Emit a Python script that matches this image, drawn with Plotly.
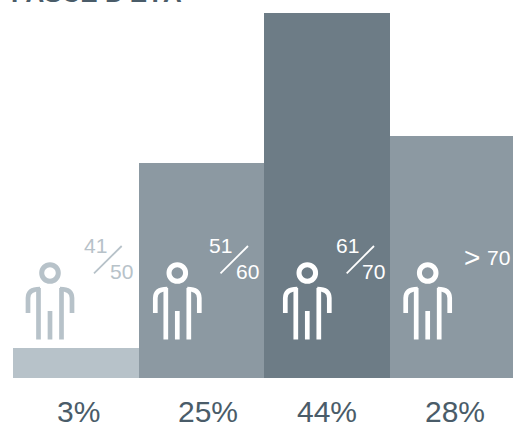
import plotly.graph_objects as go

age_groups = ["41/50", "51/60", "61/70", "> 70"]
percent_labels = ["3%", "25%", "44%", "28%"]
bar_heights = [30, 215, 365, 242]
bar_colors = ["#b7c2c9", "#8c99a2", "#6d7c86", "#8c99a2"]

W, H = 513, 423
LEFT, BASE, STEP = 13, 378, 125.6
TEXT = "#4a5c69"
FONT = "Liberation Sans"


def fx(p):
    return (p - LEFT) / STEP - 0.5


def fy(p):
    return BASE - p


fig = go.Figure(go.Bar(
    x=list(range(len(age_groups))), y=bar_heights, width=1,
    marker=dict(color=bar_colors, line=dict(width=0)),
    hovertext=age_groups, hoverinfo="text",
))

shapes, ann = [], []


def text(x, y, s, size, color, bold=False):
    ann.append(dict(x=fx(x), y=1 - y / H, yref="paper",
                    text=f"<b>{s}</b>" if bold else s, showarrow=False,
                    font=dict(family=FONT, size=size, color=color),
                    xanchor="center", yanchor="middle"))


def icon(cx, color):
    s = dict(type="circle", xref="x", yref="y", x0=fx(cx - 8.3), x1=fx(cx + 8.3),
             y0=fy(273 + 8.3), y1=fy(273 - 8.3), line=dict(color=color, width=5))
    shapes.append(s)
    for d in (-1, 1):
        p = (f"M{fx(cx + d*22)},{fy(313)} L{fx(cx + d*22)},{fy(298)} "
             f"Q{fx(cx + d*22)},{fy(289)} {fx(cx + d*10)},{fy(289)}")
        shapes.append(dict(type="path", path=p, xref="x", yref="y", line=dict(color=color, width=4.7)))
        shapes.append(dict(type="line", xref="x", yref="y", x0=fx(cx + d*11.5), x1=fx(cx + d*11.5),
                           y0=fy(288), y1=fy(339.5), line=dict(color=color, width=4.7)))
    shapes.append(dict(type="line", xref="x", yref="y", x0=fx(cx), x1=fx(cx), y0=fy(311), y1=fy(339.5),
                       line=dict(color=color, width=4.7)))


def slash(a, b, c, d, color):
    shapes.append(dict(type="line", xref="x", yref="y", x0=fx(a), x1=fx(c), y0=fy(b), y1=fy(d),
                       line=dict(color=color, width=1.8)))


LIGHT = "#b7c2c9"
icon(50, LIGHT)
icon(177.3, "white")
icon(307.3, "white")
icon(427.7, "white")

slash(94, 273.3, 121.7, 246, LIGHT)
slash(220.5, 273.3, 248, 246, "white")
slash(346.7, 273.3, 374, 246, "white")

text(95, 245.2, "41", 21, LIGHT)
text(121, 271.5, "50", 21, LIGHT)
text(220.5, 245.2, "51", 21, "white")
text(247, 271.5, "60", 21, "white")
text(347, 245.2, "61", 21, "white")
text(373, 271.5, "70", 21, "white")
text(471.5, 257, "&gt;", 28, "white")
text(498.5, 257.5, "70", 21, "white")

for cx, lab in zip([78, 208, 327, 454.7], percent_labels):
    text(cx, 411.5, lab, 30, TEXT)

text(96.5, -7.5, "FASCE D'ETÀ", 26, TEXT, bold=True)

fig.update_layout(
    width=W, height=H, margin=dict(l=LEFT, r=0, t=0, b=0),
    paper_bgcolor="white", plot_bgcolor="white", showlegend=False,
    bargap=0, shapes=shapes, annotations=ann,
    xaxis=dict(visible=False, range=[-0.5, (W - LEFT) / STEP - 0.5], fixedrange=True),
    yaxis=dict(visible=False, range=[BASE - H, BASE], fixedrange=True),
)
fig.write_html("out.html", config=dict(displayModeBar=False),
               post_script="document.body.style.margin='0';document.body.style.overflow='hidden';")
